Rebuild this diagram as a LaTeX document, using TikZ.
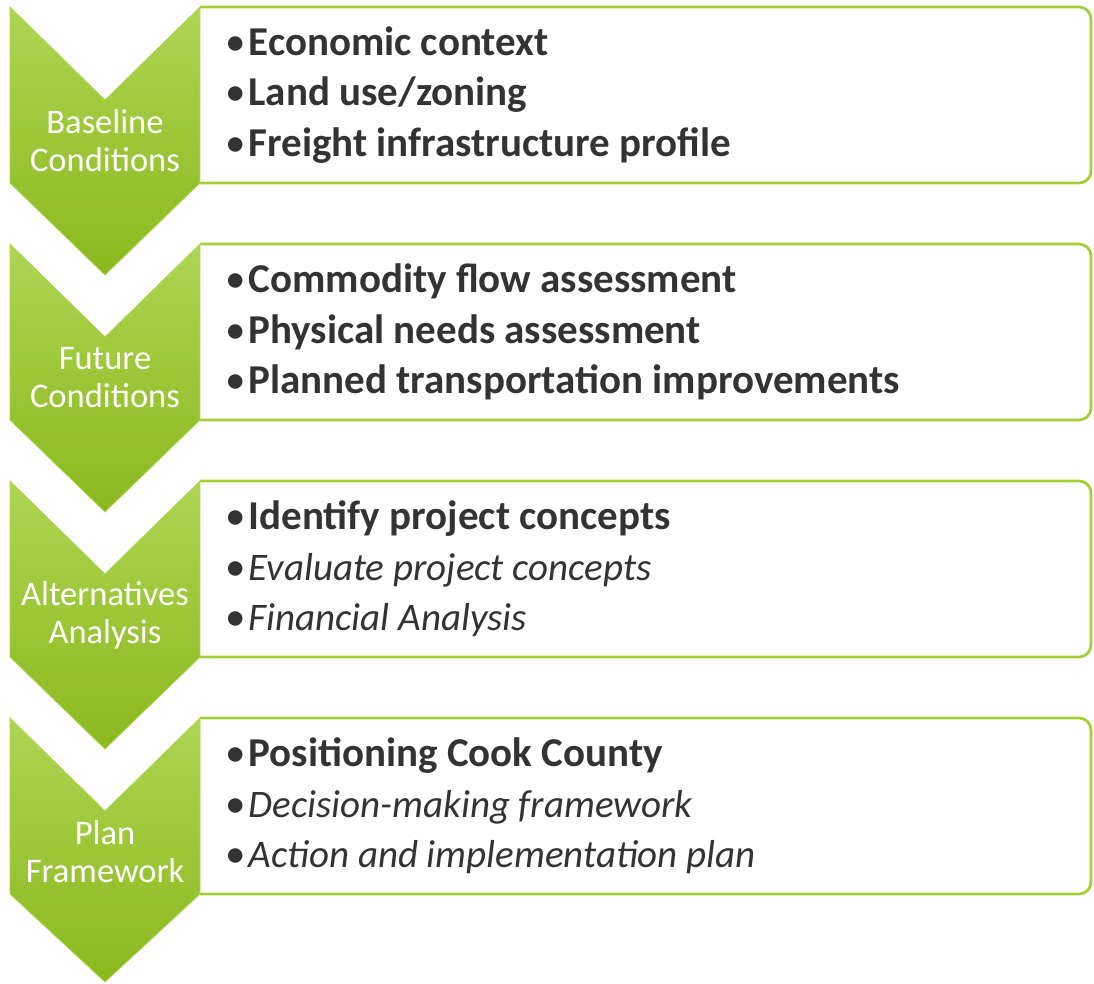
\documentclass[tikz,border=0pt]{standalone}
\usepackage{fontspec}
\setmainfont{Carlito}
\usetikzlibrary{positioning}

\definecolor{chevtop}{HTML}{AED553}
\definecolor{chevbot}{HTML}{8BB81D}
\definecolor{boxline}{HTML}{A3CE35}
\definecolor{itemgray}{HTML}{333333}

\newcommand{\bul}{\textbullet\hspace{3pt}}
\newcommand{\itemit}[1]{{\fontsize{39}{50.5}\selectfont\textit{#1}}}

\begin{document}
\begin{tikzpicture}[x=1pt, y=-1pt,
    chevron/.style={top color=chevtop, bottom color=chevbot, draw=chevtop, line width=0.8pt},
    stagebox/.style={draw=boxline, line width=2.8pt, rounded corners=12pt},
    stagelabel/.style={text=white, align=center, inner sep=0pt, font=\fontsize{34.5}{38}\selectfont},
    itemlist/.style={text=itemgray, align=left, anchor=west, inner sep=0pt, font=\fontsize{41}{50.5}\selectfont}]

    \useasboundingbox (0,0) rectangle (1094,984);

    % boxes
    \draw[stagebox] (200,7) -- (1091,7) -- (1091,183) -- (200,183);
    \draw[stagebox] (200,244) -- (1091,244) -- (1091,420) -- (200,420);
    \draw[stagebox] (200,481) -- (1091,481) -- (1091,657) -- (200,657);
    \draw[stagebox] (200,718) -- (1091,718) -- (1091,894) -- (200,894);

    % chevrons
    \draw[chevron] (10,7) -- (105,100) -- (200,7) -- (200,183) -- (105,275) -- (10,183) -- cycle;
    \draw[chevron] (10,244) -- (105,337) -- (200,244) -- (200,420) -- (105,512) -- (10,420) -- cycle;
    \draw[chevron] (10,481) -- (105,574) -- (200,481) -- (200,657) -- (105,749) -- (10,657) -- cycle;
    \draw[chevron] (10,718) -- (105,811) -- (200,718) -- (200,894) -- (105,982) -- (10,894) -- cycle;

    \node(baseline)[stagelabel] at (105,141) {Baseline\\Conditions};
    \node(future)[stagelabel] at (105,378) {Future\\Conditions};
    \node(alternatives)[stagelabel] at (105,615) {Alternatives\\Analysis};
    \node(plan)[stagelabel] at (105,852) {Plan\\Framework};

    \node(baselineitems)[itemlist] at (225,95) {%
        \bul\textbf{Economic context}\\
        \bul\textbf{Land use/zoning}\\
        \bul\textbf{Freight infrastructure profile}};
    \node(futureitems)[itemlist] at (225,332) {%
        \bul\textbf{Commodity flow assessment}\\
        \bul\textbf{Physical needs assessment}\\
        \bul\textbf{Planned transportation improvements}};
    \node(alternativesitems)[itemlist] at (225,569) {%
        \bul\textbf{Identify project concepts}\\
        \bul\itemit{Evaluate project concepts}\\
        \bul\itemit{Financial Analysis}};
    \node(planitems)[itemlist] at (225,806) {%
        \bul\textbf{Positioning Cook County}\\
        \bul\itemit{Decision-making framework}\\
        \bul\itemit{Action and implementation plan}};

\end{tikzpicture}
\end{document}
